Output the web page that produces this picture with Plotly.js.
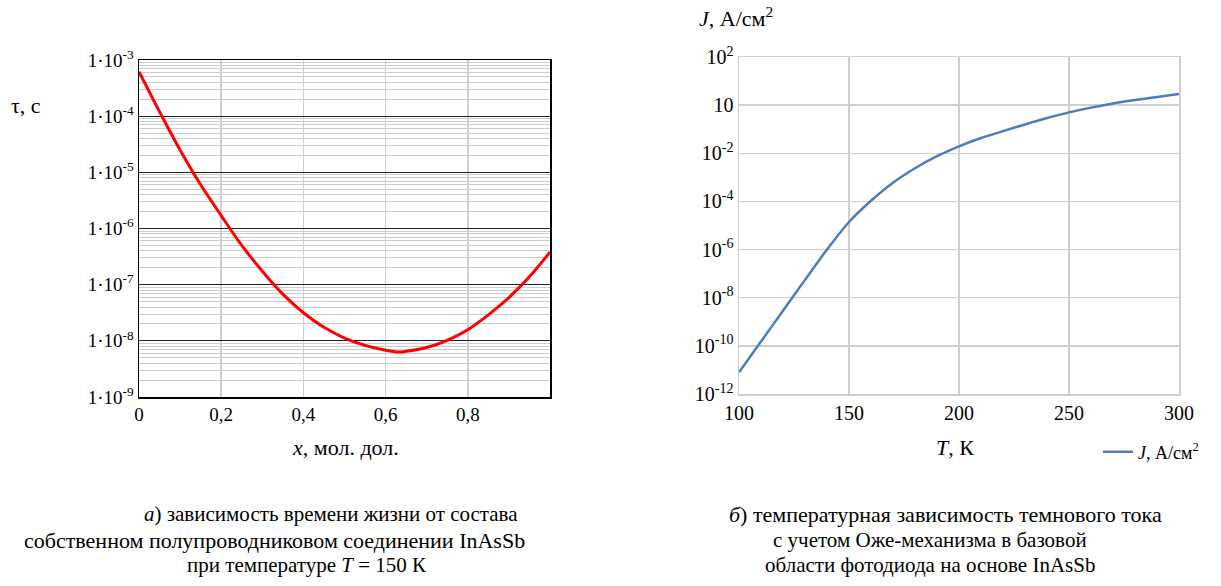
<!DOCTYPE html>
<html>
<head>
<meta charset="utf-8">
<script src="https://cdn.plot.ly/plotly-3.0.1.min.js"></script>
<style>
html,body{margin:0;padding:0;background:#fff;}
#chart{width:1221px;height:586px;}
</style>
</head>
<body>
<div id="chart"></div>
<script>
// Left chart: lifetime vs composition (T = 150 K)
const compX = [0, 0.05, 0.1, 0.15, 0.2, 0.25, 0.3, 0.35, 0.4, 0.45, 0.5, 0.55, 0.6, 0.63, 0.65, 0.7, 0.75, 0.8, 0.85, 0.9, 0.95, 1.0];
const tauS  = [6.2e-4, 1.2e-4, 2.5e-5, 6.0e-6, 1.7e-6, 5.0e-7, 1.74e-7, 6.8e-8, 3.16e-8, 1.74e-8, 1.12e-8, 8.3e-9, 6.8e-9, 6.3e-9, 6.5e-9, 7.6e-9, 1.02e-8, 1.58e-8, 2.9e-8, 5.9e-8, 1.38e-7, 3.8e-7];
const leftXTickVals = [0, 0.2, 0.4, 0.6, 0.8];
const leftXTickText = ['0', '0,2', '0,4', '0,6', '0,8'];
const leftYTickVals = [1e-9, 1e-8, 1e-7, 1e-6, 1e-5, 1e-4, 1e-3];
const leftYTickText = ['1·10<sup>-9</sup>', '1·10<sup>-8</sup>', '1·10<sup>-7</sup>', '1·10<sup>-6</sup>', '1·10<sup>-5</sup>', '1·10<sup>-4</sup>', '1·10<sup>-3</sup>'];

// Right chart: dark current vs temperature
const tempK = [100, 110, 120, 130, 140, 150, 160, 170, 180, 190, 200, 210, 220, 230, 240, 250, 260, 270, 280, 290, 300];
const jAcm2 = [7.9e-12, 1.51e-10, 2.9e-9, 5.5e-8, 1.0e-6, 1.4e-5, 1.07e-4, 6.0e-4, 2.4e-3, 7.6e-3, 1.95e-2, 4.3e-2, 8.3e-2, 0.158, 0.29, 0.50, 0.79, 1.17, 1.62, 2.19, 2.88];
const rightXTickVals = [100, 150, 200, 250, 300];
const rightYTickVals = [1e-12, 1e-10, 1e-8, 1e-6, 1e-4, 1e-2, 1, 1e2];
const rightYTickText = ['10<sup>-12</sup>', '10<sup>-10</sup>', '10<sup>-8</sup>', '10<sup>-6</sup>', '10<sup>-4</sup>', '10<sup>-2</sup>', '10', '10<sup>2</sup>'];

// minor grid positions (2..9 of each decade) for the left chart
const minorVals = [];
for (let e = -9; e < -3; e++) { for (let m = 2; m <= 9; m++) minorVals.push(m * Math.pow(10, e)); }

const W = 1221, H = 586;
const px = v => v / W;
const py = v => 1 - v / H;
const FONT = 'Liberation Serif';

function ann(text, x, y, xanchor, size) {
  return {text: text, x: px(x), y: py(y), xref: 'paper', yref: 'paper', xanchor: xanchor || 'center',
          yanchor: 'middle', showarrow: false, font: {family: FONT, size: size || 21, color: '#000'}};
}

const traces = [
  {x: compX, y: tauS, type: 'scatter', mode: 'lines', line: {color: '#ff0000', width: 3, shape: 'spline', smoothing: 0.8},
   xaxis: 'x', yaxis: 'y', showlegend: false, name: 'τ'},
  {x: tempK, y: jAcm2, type: 'scatter', mode: 'lines', line: {color: '#4a7ebb', width: 2.5, shape: 'spline', smoothing: 0.8},
   xaxis: 'x2', yaxis: 'y2', showlegend: true, name: '<i>J</i>, А/см<sup>2</sup>'}
];

const layout = {
  width: W, height: H,
  margin: {l: 0, r: 0, t: 0, b: 0},
  paper_bgcolor: '#fff', plot_bgcolor: '#fff',
  font: {family: FONT, size: 19, color: '#000'},
  xaxis: {domain: [px(139), px(550)], range: [0, 1], tickvals: leftXTickVals, ticktext: leftXTickText,
          showgrid: true, gridcolor: '#cfcfcf', gridwidth: 1.5, zeroline: false,
          showline: true, linecolor: '#000', linewidth: 1.5, mirror: true, ticks: '', anchor: 'y',
          tickfont: {family: FONT, size: 19, color: '#000'}},
  yaxis: {domain: [py(397), py(60)], type: 'log', range: [-9, -3], tickvals: leftYTickVals, ticktext: leftYTickText,
          showgrid: true, gridcolor: '#222', gridwidth: 1, zeroline: false,
          showline: true, linecolor: '#000', linewidth: 1.5, mirror: true, ticks: '', anchor: 'x',
          minor: {tickvals: minorVals, showgrid: true, gridcolor: '#cccccc', gridwidth: 1, ticks: ''},
          tickfont: {family: FONT, size: 19, color: '#000'}},
  xaxis2: {domain: [px(739), px(1179)], range: [100, 300], tickvals: rightXTickVals,
           showgrid: true, gridcolor: '#cfcfcf', gridwidth: 1.5, zeroline: false,
           showline: true, linecolor: '#cfcfcf', linewidth: 1.5, mirror: true, ticks: '', anchor: 'y2',
           tickfont: {family: FONT, size: 20, color: '#000'}},
  yaxis2: {domain: [py(394), py(57)], type: 'log', range: [-12, 2], tickvals: rightYTickVals, ticktext: rightYTickText,
           showgrid: true, gridcolor: '#cfcfcf', gridwidth: 1.5, zeroline: false,
           showline: true, linecolor: '#cfcfcf', linewidth: 1.5, mirror: true, ticks: '', anchor: 'x2',
           tickfont: {family: FONT, size: 20, color: '#000'}},
  legend: {x: px(1098), y: py(452), xanchor: 'left', yanchor: 'middle', bgcolor: 'rgba(0,0,0,0)',
           font: {family: FONT, size: 18, color: '#000'}},
  annotations: [
    ann('τ, с', 26, 105, 'center', 22),
    ann('<i>x</i>, мол. дол.', 345, 447, 'center', 22),
    ann('<i>J</i>, А/см<sup>2</sup>', 697, 17, 'left', 22),
    ann('<i>T</i>, К', 955, 447, 'center', 22),
    ann('<i>а</i>) зависимость времени жизни от состава', 331, 514),
    ann('собственном полупроводниковом соединении InAsSb', 527, 540, 'right', 22),
    ann('при температуре <i>T</i> = 150 К', 307, 565),
    ann('<i>б</i>) температурная зависимость темнового тока', 945, 514, 'center', 22),
    ann('с учетом Оже-механизма в базовой', 930, 540),
    ann('области фотодиода на основе InAsSb', 930, 565)
  ]
};

Plotly.newPlot('chart', traces, layout, {staticPlot: true, displayModeBar: false});
</script>
</body>
</html>
